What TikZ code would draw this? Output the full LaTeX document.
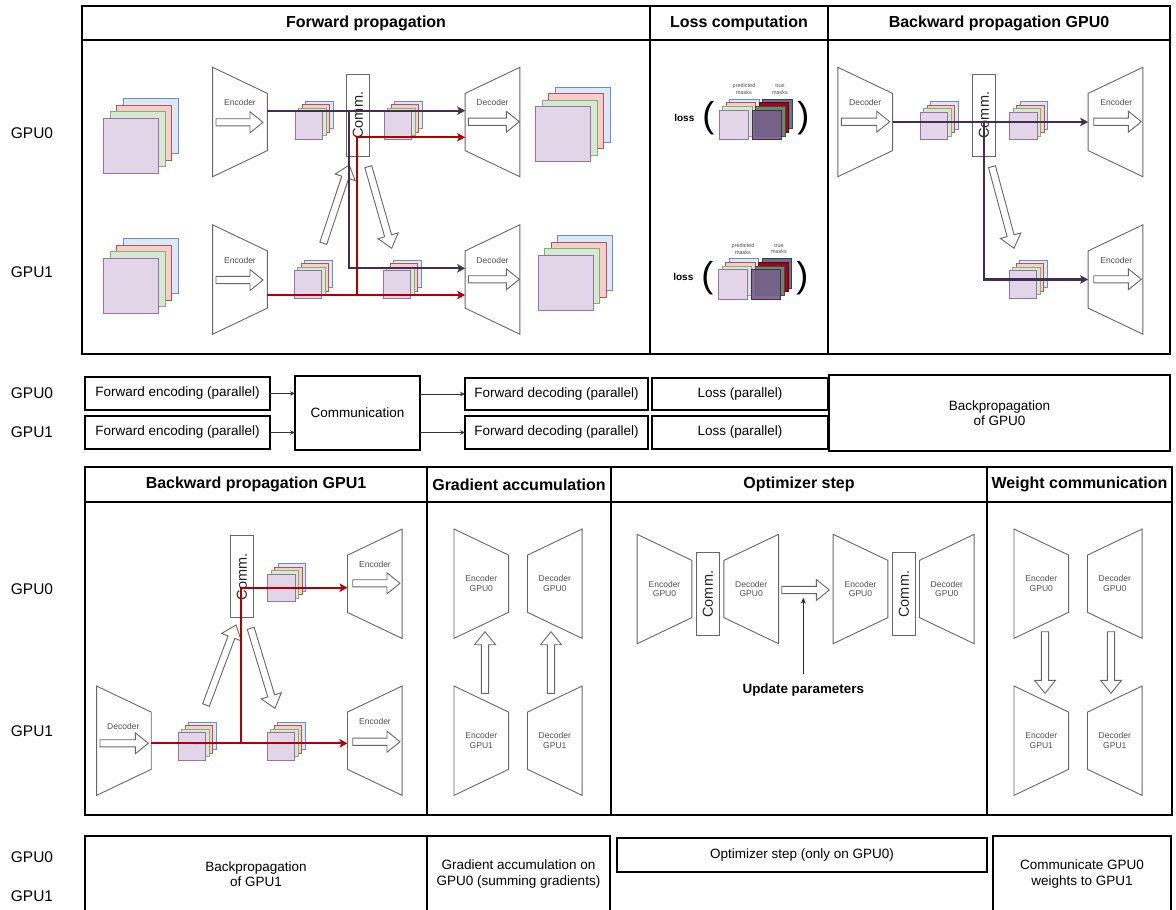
\documentclass[tikz,border=0pt]{standalone}
\usepackage{fontspec}
\setmainfont{Liberation Sans}
\usetikzlibrary{calc,arrows.meta}

\definecolor{purpfill}{HTML}{E1D5E7}
\definecolor{purpedge}{HTML}{9673A6}
\definecolor{greenfill}{HTML}{D5E8D4}
\definecolor{greenedge}{HTML}{82B366}
\definecolor{redfill}{HTML}{F8CECC}
\definecolor{rededge}{HTML}{B85450}
\definecolor{bluefill}{HTML}{DAE8FC}
\definecolor{blueedge}{HTML}{6C8EBF}
\definecolor{flowviolet}{HTML}{432D57}
\definecolor{flowred}{HTML}{B20000}
\definecolor{shapegray}{HTML}{666666}
\definecolor{labelgray}{HTML}{4D4D4D}
\definecolor{tmslate}{HTML}{647687}
\definecolor{tmslateE}{HTML}{314354}
\definecolor{tmred}{HTML}{A20025}
\definecolor{tmredE}{HTML}{6F0000}
\definecolor{tmgreen}{HTML}{6D8764}
\definecolor{tmgreenE}{HTML}{3A5431}
\definecolor{tmpurple}{HTML}{76608A}
\definecolor{tmpurpleE}{HTML}{432D57}

\tikzset{
  panelbox/.style={draw=black, line width=1.8pt, fill=white, inner sep=0pt, outer sep=0pt},
  paneltitle/.style={panelbox, font=\fontsize{16}{19}\selectfont\bfseries},
  gpulabel/.style={font=\fontsize{15.5}{18}\selectfont, inner sep=0pt},
  trapbb/.style={inner sep=0pt, outer sep=0pt, minimum width=54.7pt, minimum height=109.4pt},
  trapline/.style={draw=shapegray, line width=0.9pt, fill=white},
  traplabel/.style={font=\fontsize{8.5}{9.5}\selectfont, text=labelgray, inner sep=0pt, align=center},
  blockarr/.style={draw=shapegray, line width=0.9pt, fill=white},
  commbox/.style={draw=shapegray, line width=1pt, fill=white, rotate=90,
    minimum width=82pt, minimum height=22.6pt, inner sep=0pt,
    font=\fontsize{14.5}{16}\selectfont, text=black!85},
  flowV/.style={draw=flowviolet, line width=2.2pt, -{Stealth[length=8pt,width=8.5pt,inset=2pt]}},
  flowR/.style={flowV, draw=flowred},
  lay-b/.style={draw=blueedge, fill=bluefill, line width=0.8pt},
  lay-r/.style={draw=rededge, fill=redfill, line width=0.8pt},
  lay-g/.style={draw=greenedge, fill=greenfill, line width=0.8pt},
  lay-p/.style={draw=purpedge, fill=purpfill, line width=0.8pt},
  tm-s/.style={draw=tmslateE, fill=tmslate, line width=0.8pt},
  tm-r/.style={draw=tmredE, fill=tmred, line width=0.8pt},
  tm-g/.style={draw=tmgreenE, fill=tmgreen, line width=0.8pt},
  tm-p/.style={draw=tmpurpleE, fill=tmpurple, fill opacity=0.92, line width=0.8pt},
  tbox/.style={draw=black, line width=1.8pt, inner sep=0pt, outer sep=0pt, align=center,
    font=\fontsize{13.5}{15.5}\selectfont},
  tarrow/.style={draw=black!80, line width=0.8pt, -{Stealth[length=5pt,width=4.5pt]}},
  masklabel/.style={font=\fontsize{5.5}{6.7}\selectfont, text=labelgray, align=center, inner sep=0pt},
  losstext/.style={font=\fontsize{10}{12}\selectfont\bfseries, inner sep=0pt},
  paren/.style={font=\fontsize{36}{36}\selectfont, inner sep=0pt},
  updtext/.style={font=\fontsize{13.4}{16}\selectfont\bfseries, inner sep=0pt},
  thinarrow/.style={draw=black!85, line width=0.9pt, -{Stealth[length=6pt,width=5pt]}}
}

% trapezoid with the tall side on the left / on the right
\newcommand\trapL[3]{%
  \node[trapbb] (#1) at (#2,#3) {};
  \draw[trapline] (#1.north west) -- ([yshift=-26.1pt]#1.north east)
    -- ([yshift=26.1pt]#1.south east) -- (#1.south west) -- cycle;}
\newcommand\trapR[3]{%
  \node[trapbb] (#1) at (#2,#3) {};
  \draw[trapline] ([yshift=-26.1pt]#1.north west) -- (#1.north east)
    -- (#1.south east) -- ([yshift=26.1pt]#1.south west) -- cycle;}

% hollow block arrow from tail #1 to tip #2
\newcommand\blockarrow[2]{%
  \coordinate (ba-h) at ($(#2)!13pt!(#1)$);
  \draw[blockarr] ($(#1)!3.6pt!90:(#2)$) -- ($(ba-h)!3.6pt!-90:(#1)$)
    -- ($(ba-h)!10.5pt!-90:(#1)$) -- (#2) -- ($(ba-h)!10.5pt!90:(#1)$)
    -- ($(ba-h)!3.6pt!90:(#1)$) -- ($(#1)!3.6pt!-90:(#2)$) -- cycle;}

% block arrow inside a trapezoid: name, x from, x to, vertical offset
\newcommand\inarrow[4]{%
  \coordinate (#1-a) at ($(#1.center)+(#2,#4)$);
  \coordinate (#1-b) at ($(#1.center)+(#3,#4)$);
  \blockarrow{#1-a}{#1-b}}

% stack of four feature maps; front square top-left corner, size, step
\newcommand\mstack[4]{%
  \draw[lay-b] ({#1+3*#4},{#2-3*#4}) rectangle ++(#3,#3);
  \draw[lay-r] ({#1+2*#4},{#2-2*#4}) rectangle ++(#3,#3);
  \draw[lay-g] ({#1+#4},{#2-#4}) rectangle ++(#3,#3);
  \draw[lay-p] (#1,#2) rectangle ++(#3,#3);}
\newcommand\tstack[4]{%
  \draw[tm-s] ({#1+3*#4},{#2-3*#4}) rectangle ++(#3,#3);
  \draw[tm-r] ({#1+2*#4},{#2-2*#4}) rectangle ++(#3,#3);
  \draw[tm-g] ({#1+#4},{#2-#4}) rectangle ++(#3,#3);
  \draw[tm-p] (#1,#2) rectangle ++(#3,#3);}

\begin{document}
\begin{tikzpicture}[x=1pt, y=-1pt]
\useasboundingbox (0,0) rectangle (1176,910);
\fill[white] (0,0) rectangle (1176,910);

% ---------------- row labels ----------------
\node[gpulabel] (r1) at (32,133) {GPU0};
\node[gpulabel] (r2) at (32,272) {GPU1};
\node[gpulabel] (r3) at (32,393.5) {GPU0};
\node[gpulabel] (r4) at (32,432.5) {GPU1};
\node[gpulabel] (r5) at (32,589) {GPU0};
\node[gpulabel] (r6) at (32,731) {GPU1};
\node[gpulabel] (r7) at (32,857) {GPU0};
\node[gpulabel] (r8) at (32,896) {GPU1};

% ---------------- upper panels ----------------
\node[panelbox, minimum width=568pt, minimum height=314pt] (p-fwd) at (366,197) {};
\node[paneltitle, minimum width=568pt, minimum height=34pt] (t-fwd) at (366,23) {Forward propagation};
\node[panelbox, minimum width=178pt, minimum height=314pt] (p-loss) at (739,197) {};
\node[paneltitle, minimum width=178pt, minimum height=34pt] (t-loss) at (739,23) {Loss computation};
\node[panelbox, minimum width=342pt, minimum height=314pt] (p-bw0) at (999,197) {};
\node[paneltitle, minimum width=342pt, minimum height=34pt] (t-bw0) at (999,23) {Backward propagation GPU0};

% forward propagation
\mstack{103.3}{118.3}{55}{6.67}
\mstack{103.3}{258.3}{55}{6.67}
\trapL{fe0}{240}{122}
\trapL{fe1}{240}{279.5}
\node[traplabel] (fe0-l) at ($(fe0.center)+(0,-19.3)$) {Encoder};
\node[traplabel] (fe1-l) at ($(fe1.center)+(0,-19.5)$) {Encoder};
\inarrow{fe0}{-24}{23}{0.3}
\inarrow{fe1}{-24}{23}{0.5}
\node[commbox] (fc) at (358,115.2) {Comm.};
\mstack{295}{111.7}{27.5}{3.5}
\mstack{294.3}{270.7}{27.5}{3.5}
\mstack{384.3}{111.7}{27.5}{3.5}
\mstack{383.3}{270.7}{27.5}{3.5}
\trapR{fd0}{492.5}{122}
\trapR{fd1}{492.5}{279.5}
\node[traplabel] (fd0-l) at ($(fd0.center)+(0,-19.3)$) {Decoder};
\node[traplabel] (fd1-l) at ($(fd1.center)+(0,-19.5)$) {Decoder};
\inarrow{fd0}{-24.2}{26.8}{-0.3}
\inarrow{fd1}{-24.2}{26.8}{-0.2}
\mstack{535.7}{106.7}{55}{6.5}
\mstack{538.3}{255}{55}{6.5}
\coordinate (fu-a) at (323.3,243.3);
\coordinate (fu-b) at (349.3,165);
\blockarrow{fu-a}{fu-b}
\coordinate (fdn-a) at (368.3,166.7);
\coordinate (fdn-b) at (391.7,248.3);
\blockarrow{fdn-a}{fdn-b}
% activations exchanged between the two GPUs
\coordinate (fv0) at ([yshift=11.3pt]fe0.east);
\coordinate (fr1) at ([yshift=-15.5pt]fe1.east);
\coordinate (fv1) at ([yshift=11.2pt]fd1.west);
\coordinate (fr0) at ([yshift=-15.3pt]fd0.west);
\coordinate (fjv) at (349.3,110.7);
\coordinate (fjr) at (356.7,295);
\draw[flowV] (fv0) -- (fv0 -| fd0.west);
\draw[flowV] (fjv) |- (fv1);
\draw[flowR] (fr1) -- (fr1 -| fd1.west);
\draw[flowR] (fjr) |- (fr0);

% loss computation
\node[losstext] (loss0) at (684.3,117.7) {loss};
\node[paren] (lp0) at (708.3,118.3) {(};
\node[masklabel] (pm0) at (744,89.3) {predicted\\masks};
\node[masklabel] (tm0) at (780,89.3) {true\\masks};
\mstack{719}{110}{29.5}{3.6}
\tstack{752}{110}{29.5}{3.6}
\node[paren] (rp0) at (803.3,118.3) {)};
\node[losstext] (loss1) at (683.3,277.3) {loss};
\node[paren] (lp1) at (707.3,278) {(};
\node[masklabel] (pm1) at (743,248.8) {predicted\\masks};
\node[masklabel] (tm1) at (779,248.8) {true\\masks};
\mstack{718.3}{269.5}{29.5}{3.6}
\tstack{751.3}{269.5}{29.5}{3.6}
\node[paren] (rp1) at (802.3,278) {)};

% backward propagation on GPU0
\trapL{bd0}{865.2}{122}
\node[traplabel] (bd0-l) at ($(bd0.center)+(0,-19.3)$) {Decoder};
\inarrow{bd0}{-23.9}{24.5}{-0.3}
\node[commbox] (bc0) at (983.8,115.2) {Comm.};
\mstack{920.3}{112.3}{27.5}{3.5}
\mstack{1009.7}{112.3}{27.5}{3.5}
\mstack{1009}{270.7}{27.5}{3.5}
\trapR{be0}{1115.5}{122}
\trapR{be1}{1115.5}{279.5}
\node[traplabel] (be0-l) at ($(be0.center)+(0.8,-19.3)$) {Encoder};
\node[traplabel] (be1-l) at ($(be1.center)+(0.8,-19.5)$) {Encoder};
\inarrow{be0}{-21.8}{25.8}{-0.3}
\inarrow{be1}{-21.8}{25.8}{-0.2}
\coordinate (bdn-a) at (992,166.7);
\coordinate (bdn-b) at (1014,248.3);
\blockarrow{bdn-a}{bdn-b}
\coordinate (bj) at (984,122);
\draw[flowV] (bd0.east) -- (bd0.east -| be0.west);
\draw[flowV] (bj) |- (be1.west);

% ---------------- first time line ----------------
\node[tbox, minimum width=185pt, minimum height=33pt] (fe-0) at (177.5,393.5) {Forward encoding (parallel)};
\node[tbox, minimum width=185pt, minimum height=33pt] (fe-1) at (177.5,432.5) {Forward encoding (parallel)};
\node[tbox, minimum width=125pt, minimum height=74pt] (comm-t) at (357.5,413) {Communication};
\node[tbox, minimum width=183pt, minimum height=32pt] (fd-0) at (556.5,394) {Forward decoding (parallel)};
\node[tbox, minimum width=183pt, minimum height=33pt] (fd-1) at (556.5,432.5) {Forward decoding (parallel)};
\node[tbox, minimum width=176pt, minimum height=32pt] (ls-0) at (740,394) {Loss (parallel)};
\node[tbox, minimum width=176pt, minimum height=33pt] (ls-1) at (740,432.5) {Loss (parallel)};
\node[tbox, minimum width=341pt, minimum height=76pt] (bp-0) at (999.5,413) {Backpropagation\\of GPU0};
\draw[tarrow] (fe-0.east) -- (fe-0.east -| comm-t.west);
\draw[tarrow] (fe-1.east) -- (fe-1.east -| comm-t.west);
\draw[tarrow] (comm-t.east |- fd-0.west) -- (fd-0.west);
\draw[tarrow] (comm-t.east |- fd-1.west) -- (fd-1.west);

% ---------------- lower panels ----------------
\node[panelbox, minimum width=342pt, minimum height=313pt] (p-bw1) at (256,658.5) {};
\node[paneltitle, minimum width=342pt, minimum height=35pt] (t-bw1) at (256,484.5) {Backward propagation GPU1};
\node[panelbox, minimum width=184pt, minimum height=313pt] (p-acc) at (519,658.5) {};
\node[paneltitle, minimum width=184pt, minimum height=35pt] (t-acc) at (519,484.5) {Gradient accumulation};
\node[panelbox, minimum width=376pt, minimum height=313pt] (p-opt) at (799,658.5) {};
\node[paneltitle, minimum width=376pt, minimum height=35pt] (t-opt) at (799,484.5) {Optimizer step};
\node[panelbox, minimum width=185pt, minimum height=313pt] (p-wc) at (1079.5,658.5) {};
\node[paneltitle, minimum width=185pt, minimum height=35pt] (t-wc) at (1079.5,484.5) {Weight communication};

% backward propagation on GPU1
\trapL{bd1}{123.9}{740.7}
\node[traplabel] (bd1-l) at ($(bd1.center)+(-0.6,-14.7)$) {Decoder};
\inarrow{bd1}{-23.9}{24.4}{2.6}
\node[commbox] (bc1) at (242,576.7) {Comm.};
\mstack{267.7}{574.3}{27.5}{3.5}
\mstack{178.3}{732.7}{27.5}{3.5}
\mstack{267.3}{732.7}{27.5}{3.5}
\trapR{bge0}{374.8}{583.8}
\trapR{bge1}{374.8}{740.7}
\node[traplabel] (bge0-l) at ($(bge0.center)+(0.2,-19.5)$) {Encoder};
\node[traplabel] (bge1-l) at ($(bge1.center)+(0.2,-19)$) {Encoder};
\inarrow{bge0}{-22.1}{25.2}{-0.5}
\inarrow{bge1}{-22.1}{25.2}{1}
\coordinate (gu-a) at (206,705);
\coordinate (gu-b) at (236,625);
\blockarrow{gu-a}{gu-b}
\coordinate (gdn-a) at (250.7,628.3);
\coordinate (gdn-b) at (275,708.3);
\blockarrow{gdn-a}{gdn-b}
\coordinate (rb) at ([yshift=-2.6pt]bd1.east);
\coordinate (rj) at (240.7,743.3);
\coordinate (rt) at ([yshift=-3.9pt]bge0.west);
\draw[flowR] (rb) -- (rb -| bge1.west);
\draw[flowR] (rj) |- (rt);

% gradient accumulation
\trapL{ge0}{481.3}{583.7}
\trapR{gd0}{554.8}{583.7}
\trapL{ge1}{481.3}{740.7}
\trapR{gd1}{554.8}{740.7}
\node[traplabel] (ge0-l) at (ge0.center) {Encoder\\GPU0};
\node[traplabel] (gd0-l) at (gd0.center) {Decoder\\GPU0};
\node[traplabel] (ge1-l) at (ge1.center) {Encoder\\GPU1};
\node[traplabel] (gd1-l) at (gd1.center) {Decoder\\GPU1};
\coordinate (ga1-a) at (485,693.3);
\coordinate (ga1-b) at (485,631.7);
\blockarrow{ga1-a}{ga1-b}
\coordinate (ga2-a) at (551,693.3);
\coordinate (ga2-b) at (551,631.7);
\blockarrow{ga2-a}{ga2-b}

% optimizer step
\trapL{oe0}{664.5}{589}
\node[commbox, minimum width=83pt] (oc0) at (708,594.2) {Comm.};
\trapR{od0}{751.2}{589}
\trapL{oe1}{860.5}{589}
\node[commbox, minimum width=83pt] (oc1) at (903.8,594.2) {Comm.};
\trapR{od1}{946.8}{589}
\node[traplabel] (oe0-l) at (oe0.center) {Encoder\\GPU0};
\node[traplabel] (od0-l) at (od0.center) {Decoder\\GPU0};
\node[traplabel] (oe1-l) at (oe1.center) {Encoder\\GPU0};
\node[traplabel] (od1-l) at (od1.center) {Decoder\\GPU0};
\coordinate (os-a) at (781.7,590);
\coordinate (os-b) at (829.3,590);
\blockarrow{os-a}{os-b}
\node[updtext] (upd) at (803.3,690) {Update parameters};
\coordinate (updtip) at (803.3,597.7);
\draw[thinarrow] ([yshift=10pt]upd.north) -- (updtip);

% weight communication
\trapL{we0}{1041.3}{583.7}
\trapR{wd0}{1114.8}{583.7}
\trapL{we1}{1041.3}{740.7}
\trapR{wd1}{1114.8}{740.7}
\node[traplabel] (we0-l) at (we0.center) {Encoder\\GPU0};
\node[traplabel] (wd0-l) at (wd0.center) {Decoder\\GPU0};
\node[traplabel] (we1-l) at (we1.center) {Encoder\\GPU1};
\node[traplabel] (wd1-l) at (wd1.center) {Decoder\\GPU1};
\coordinate (wc1-a) at (1045,631.7);
\coordinate (wc1-b) at (1045,693.3);
\blockarrow{wc1-a}{wc1-b}
\coordinate (wc2-a) at (1111,631.7);
\coordinate (wc2-b) at (1111,693.3);
\blockarrow{wc2-a}{wc2-b}

% ---------------- second time line ----------------
\node[tbox, minimum width=342pt, minimum height=76pt] (bp-1) at (256,874) {Backpropagation\\of GPU1};
\node[tbox, minimum width=183pt, minimum height=76pt] (ga) at (518.5,874) {Gradient accumulation on\\GPU0 (summing gradients)};
\node[tbox, minimum width=370pt, minimum height=34pt] (opt) at (802,855) {Optimizer step (only on GPU0)};
\node[tbox, minimum width=178pt, minimum height=76pt] (cw) at (1082,874) {Communicate GPU0\\weights to GPU1};
\end{tikzpicture}
\end{document}
